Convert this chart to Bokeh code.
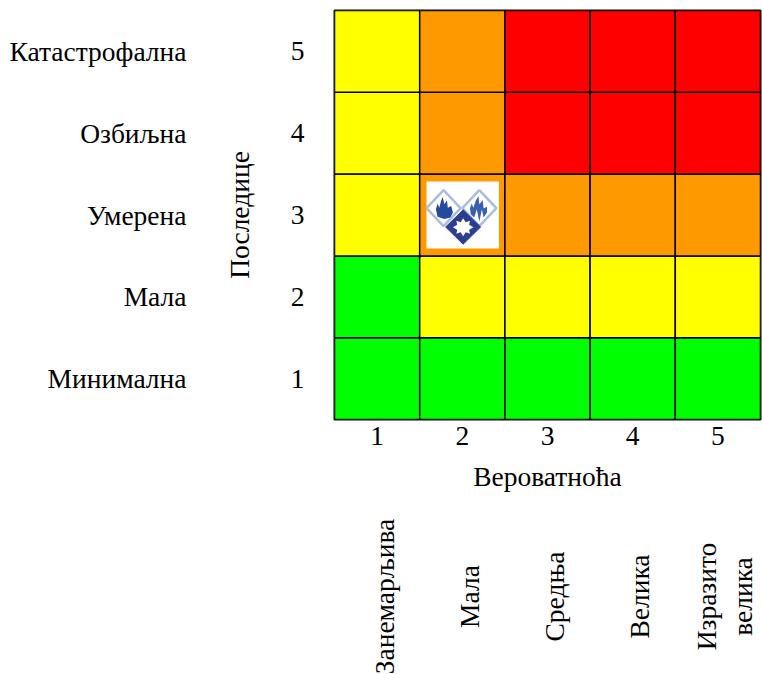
import math
from bokeh.core.properties import value
from bokeh.embed import file_html
from bokeh.models import ColumnDataSource, FixedTicker, Range1d
from bokeh.plotting import figure
from bokeh.resources import INLINE

FONT = "Liberation Serif"
SIZE = "27.5px"

likelihood = [1, 2, 3, 4, 5]
consequence = [1, 2, 3, 4, 5]
consequence_names = ["Минимална", "Мала", "Умерена", "Озбиљна", "Катастрофална"]
likelihood_names = [["Занемарљива"], ["Мала"], ["Средња"], ["Велика"], ["Изразито", "велика"]]
x_title = "Вероватноћа"
y_title = "Последице"

G, Y, O, R = "#00ff00", "#ffff00", "#ff9900", "#ff0000"
risk_rows = [  # from consequence 1 to 5
    [G, G, G, G, G],
    [G, Y, Y, Y, Y],
    [Y, O, O, O, O],
    [Y, O, R, R, R],
    [Y, O, R, R, R],
]

p = figure(width=762, height=674, output_backend="svg", toolbar_location=None,
           x_range=Range1d(0.5, 5.5), y_range=Range1d(0.5, 5.5),
           min_border_left=334, min_border_right=2, min_border_top=10, min_border_bottom=255)
p.grid.visible = False
p.background_fill_color = "white"
p.border_fill_color = "white"
p.outline_line_color = "black"
p.outline_line_width = 2

xs, ys, cs = [], [], []
for j, row in enumerate(risk_rows):
    for i, c in enumerate(row):
        xs.append(likelihood[i]); ys.append(consequence[j]); cs.append(c)
p.rect(x="x", y="y", width=1, height=1, fill_color="c", line_color="black", line_width=1.5,
       source=ColumnDataSource(dict(x=xs, y=ys, c=cs)))

# Hazard icon in the cell (likelihood 2, consequence 3); offsets in cell fractions
cx, cy = 2, 3
def pts(off):
    return [cx + a for a, _ in off], [cy + b for _, b in off]
def diamond(ox, oy, w, h):
    return pts([(ox - w, oy), (ox, oy + h), (ox + w, oy), (ox, oy - h)])
def draw(shape, fill, line=None, lw=0):
    p.patch(shape[0], shape[1], fill_color=fill, line_color=line, line_width=lw)

draw(pts([(-0.42, 0.41), (0.43, 0.41), (0.43, -0.41), (-0.42, -0.41)]), "white")
for ox in (-0.22, 0.2):
    draw(diamond(ox, 0.085, 0.2, 0.22), "#ffffff", "#a9bedd", 2.5)
# flames
draw(pts([(-0.31, 0.07), (-0.29, 0.14), (-0.27, 0.09), (-0.25, 0.17), (-0.23, 0.22), (-0.21, 0.13),
          (-0.18, 0.18), (-0.17, 0.09), (-0.13, 0.11), (-0.11, 0.03), (-0.14, -0.03), (-0.21, -0.05),
          (-0.29, -0.02)]), "#244a9e")
draw(pts([(0.09, 0.08), (0.11, 0.14), (0.13, 0.09), (0.16, 0.18), (0.19, 0.23), (0.2, 0.13),
          (0.24, 0.18), (0.25, 0.08), (0.29, 0.1), (0.29, 0.03), (0.25, -0.03), (0.23, 0.07),
          (0.2, -0.08), (0.17, 0.07), (0.14, -0.03), (0.1, 0.01)]), "#3a5fb0")
draw(diamond(0.01, -0.147, 0.205, 0.21), "#2a3f8f", "#2a3f8f", 1)
draw(pts([(-0.11, -0.15), (-0.06, -0.12), (-0.07, -0.07), (-0.02, -0.09), (0.01, -0.04), (0.04, -0.09),
          (0.09, -0.07), (0.08, -0.12), (0.13, -0.15), (0.08, -0.18), (0.09, -0.23), (0.04, -0.21),
          (0.01, -0.26), (-0.02, -0.21), (-0.07, -0.23), (-0.06, -0.18)]), "white")

for ax in (p.xaxis[0], p.yaxis[0]):
    ax.major_tick_line_color = None
    ax.minor_tick_line_color = None
    ax.axis_line_color = None
    ax.major_label_text_font = FONT
    ax.major_label_text_font_size = SIZE
    ax.major_label_text_color = "black"
    ax.axis_label_text_font = FONT
    ax.axis_label_text_font_size = SIZE
    ax.axis_label_text_font_style = "normal"
    ax.axis_label_text_color = "black"

p.xaxis.ticker = FixedTicker(ticks=likelihood)
p.yaxis.ticker = FixedTicker(ticks=consequence)
p.xaxis.axis_label = x_title
p.yaxis.axis_label = y_title
p.xaxis.major_label_standoff = 1
p.xaxis.axis_label_standoff = 13
p.yaxis.major_label_standoff = 24
p.yaxis.major_label_orientation = "horizontal"
p.yaxis.axis_label_standoff = 33

p.text(x=[0.5] * len(consequence), y=consequence, text=consequence_names, x_offset=-148,
       text_align="right", text_baseline="middle", text_font=value(FONT), text_font_size=value(SIZE),
       text_color="black", level="overlay")

tx, ty, tt, to = [], [], [], []
for v, lines in zip(likelihood, likelihood_names):
    for k, name in enumerate(lines):
        tx.append(v); ty.append(0.5); tt.append(name)
        to.append(7 if len(lines) == 1 else (-11 if k == 0 else 25))
p.text(x="x", y="y", text="t", x_offset="o", y_offset=177, angle=math.pi / 2,
       text_align="center", text_baseline="middle", text_font=value(FONT), text_font_size=value(SIZE),
       text_color="black", level="overlay", source=ColumnDataSource(dict(x=tx, y=ty, t=tt, o=to)))

open("out.html", "w").write(file_html(p, INLINE))
